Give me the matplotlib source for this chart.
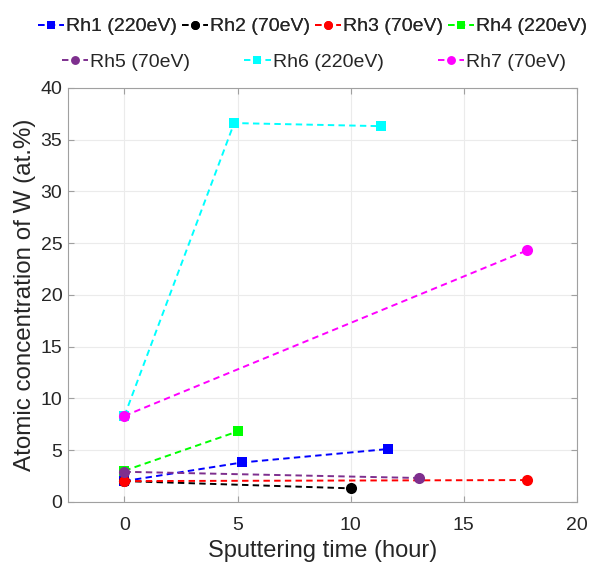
import matplotlib
matplotlib.use('Agg')
import matplotlib.pyplot as plt

plt.rcParams['font.family'] = ['Liberation Sans', 'DejaVu Sans']

# sputtering time (hour) and W concentration (at.%) per sample
labels = ['Rh1 (220eV)', 'Rh2 (70eV)', 'Rh3 (70eV)', 'Rh4 (220eV)',
          'Rh5 (70eV)', 'Rh6 (220eV)', 'Rh7 (70eV)']
rh1_t, rh1_w = [0, 5.2, 11.65], [2.0, 3.8, 5.1]
rh2_t, rh2_w = [0, 10.0], [2.0, 1.3]
rh3_t, rh3_w = [0, 17.8], [2.0, 2.1]
rh4_t, rh4_w = [0, 5.0], [3.0, 6.8]
rh5_t, rh5_w = [0, 13.0], [2.9, 2.3]
rh6_t, rh6_w = [0, 4.85, 11.35], [8.3, 36.6, 36.3]
rh7_t, rh7_w = [0, 17.8], [8.3, 24.3]

series = [(rh1_t, rh1_w), (rh2_t, rh2_w), (rh3_t, rh3_w), (rh4_t, rh4_w),
          (rh5_t, rh5_w), (rh6_t, rh6_w), (rh7_t, rh7_w)]
colors = ['#0000ff', '#000000', '#ff0000', '#00ff00', '#7e2f8e', '#00ffff', '#ff00ff']
markers = ['s', 'o', 'o', 's', 'o', 's', 'o']
msizes = [6.5, 8, 8, 6.5, 8, 6.5, 8]

fig = plt.figure(figsize=(5.9, 5.67), dpi=100)
ax = fig.add_axes([0.115, 0.115, 0.863, 0.73])

handles = []
for (t, w), c, m, ms, lab in zip(series, colors, markers, msizes, labels):
    h, = ax.plot(t, w, color=c, marker=m, markersize=ms, linestyle=(0, (3.3, 2.2)),
                 linewidth=1.4, label=lab, markeredgewidth=0)
    handles.append(h)

ax.set_xlim(-2.5, 20)
ax.set_ylim(0, 40)
ax.set_xticks([0, 5, 10, 15, 20])
ax.set_yticks(range(0, 41, 5))
ax.grid(True, color='#ebebeb', linewidth=0.8)
ax.set_axisbelow(True)
for s in ax.spines.values():
    s.set_color('#a0a0a0')
ax.tick_params(direction='in', top=True, right=True, color='#a0a0a0',
               labelsize=14, labelcolor='#262626', length=4)
ax.tick_params(axis='x', pad=11)
ax.tick_params(axis='y', pad=4)
ax.set_xlabel('Sputtering time (hour)', fontsize=17, color='#262626', labelpad=4)
ax.set_ylabel('Atomic concentration of W (at.%)', fontsize=17.4, color='#262626', labelpad=3)

leg_kw = dict(frameon=False, fontsize=14, handlelength=1.35, handletextpad=0.1,
              borderaxespad=0, borderpad=0, labelcolor='#262626', markerscale=0.8)
leg1 = fig.legend(handles[:4], labels[:4], ncol=4, loc='center',
                  bbox_to_anchor=(0.53, 0.953), columnspacing=0.25, **leg_kw)
fig.add_artist(leg1)
fig.legend(handles[4:], labels[4:], ncol=3, loc='center',
           bbox_to_anchor=(0.532, 0.89), columnspacing=2.8, **leg_kw)

fig.savefig('out.png', dpi=100)
